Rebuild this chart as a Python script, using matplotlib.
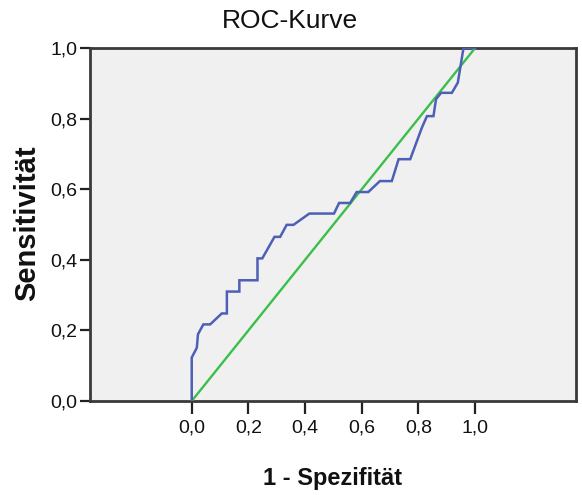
import matplotlib
matplotlib.use("Agg")
import matplotlib.pyplot as plt
from matplotlib.ticker import FuncFormatter

plt.rcParams['font.family'] = ['Liberation Sans Narrow', 'Liberation Sans', 'DejaVu Sans']

# ROC curve points (1 - specificity, sensitivity)
fpr = [0.0, 0.0, 0.018, 0.022, 0.041, 0.065, 0.106, 0.124, 0.124, 0.168, 0.168,
       0.232, 0.232, 0.249, 0.292, 0.312, 0.335, 0.359, 0.415, 0.502, 0.520,
       0.559, 0.582, 0.623, 0.664, 0.706, 0.730, 0.771, 0.812, 0.830, 0.853,
       0.862, 0.880, 0.918, 0.939, 0.959, 1.0]
tpr = [0.0, 0.123, 0.151, 0.189, 0.217, 0.217, 0.248, 0.248, 0.310, 0.310, 0.342,
       0.342, 0.404, 0.404, 0.465, 0.465, 0.499, 0.499, 0.531, 0.531, 0.561,
       0.561, 0.592, 0.592, 0.623, 0.623, 0.685, 0.685, 0.774, 0.807, 0.807,
       0.855, 0.873, 0.873, 0.902, 1.0, 1.0]

# reference line
ref_x = [0.0, 1.0]
ref_y = [0.0, 1.0]

ticks = [0.0, 0.2, 0.4, 0.6, 0.8, 1.0]

fig = plt.figure(figsize=(5.82, 4.95), dpi=100)
ax = fig.add_axes([90 / 582, 1 - 401 / 495, (576 - 90) / 582, (401 - 48) / 495])
ax.set_facecolor('#f0f0f0')

ax.plot(ref_x, ref_y, color='#3cbf4a', lw=1.7, zorder=3)
ax.plot(fpr, tpr, color='#4d5fb6', lw=1.8, zorder=4, solid_joinstyle='miter')

ax.set_xlim(-0.359, 1.356)
ax.set_ylim(0, 1)
ax.set_xticks(ticks)
ax.set_yticks(ticks)
fmt = FuncFormatter(lambda v, p: f"{v:.1f}".replace('.', ','))
ax.xaxis.set_major_formatter(fmt)
ax.yaxis.set_major_formatter(fmt)

for s in ax.spines.values():
    s.set_color('#3a3a3a')
    s.set_linewidth(2.0)
ax.tick_params(direction='out', width=1.6, color='#222222',
               labelsize=14, labelcolor='#111111')
ax.tick_params(axis='y', length=7, pad=2)
ax.tick_params(axis='x', length=9.5, pad=4)

fig.suptitle('ROC-Kurve', x=0.498, y=1 - 21 / 495, va='center',
             fontsize=19, color='#111111')
ax.set_xlabel('1 - Spezifität', fontsize=17, fontweight='bold', color='#111111')
ax.xaxis.label.set_verticalalignment('center')
ax.xaxis.set_label_coords(0.5, (401 - 479) / 353)
ax.set_ylabel('Sensitivität', fontsize=21, fontweight='bold', color='#111111')
ax.yaxis.label.set_verticalalignment('center')
ax.yaxis.set_label_coords((27 - 90) / 486, (401 - 223) / 353)

fig.savefig('out.png', dpi=100)
